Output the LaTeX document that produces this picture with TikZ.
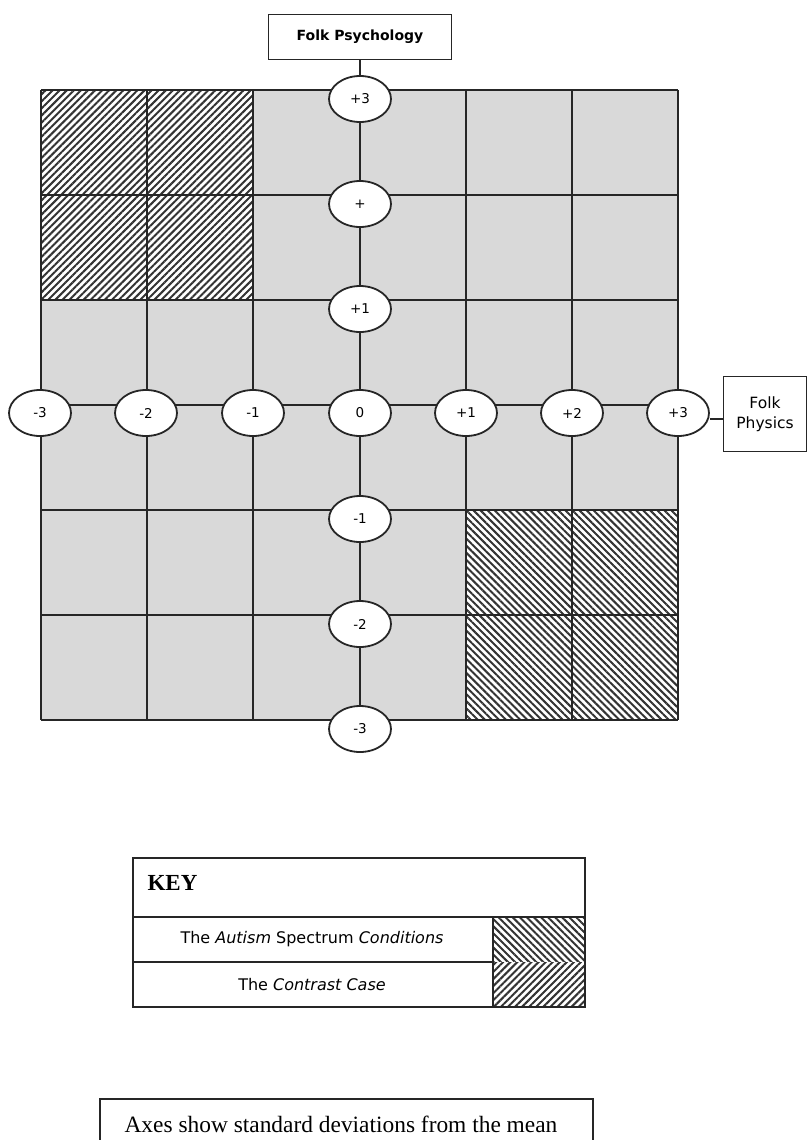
\documentclass[tikz,border=0pt]{standalone}
\usepackage{fontspec}
\setmainfont{Liberation Serif}
\newfontfamily\labfont{DejaVu Sans}
\usetikzlibrary{patterns.meta,shapes.geometric}
\tikzset{
  oval/.style={draw, line width=1.8pt, black!85, fill=white, text=black, ellipse, minimum width=62pt, minimum height=46pt, inner sep=0pt, font=\labfont\fontsize{13.5}{14}\selectfont},
  axisbox/.style={draw, line width=1.8pt, black!85, text=black, fill=white, align=center, font=\labfont\bfseries\fontsize{14}{16}\selectfont},
  gridline/.style={line width=2pt, black!85},
  hatchA/.style={pattern={Lines[angle=45,distance=5pt,line width=2pt]}, pattern color=black!80},
  hatchB/.style={pattern={Lines[angle=-45,distance=5pt,line width=2pt]}, pattern color=black!80},
  keybox/.style={draw, line width=1.8pt, black!85},
  keytext/.style={font=\labfont\fontsize{16}{18}\selectfont},
}
\begin{document}
\begin{tikzpicture}[x=1pt,y=-1pt]
\useasboundingbox (0,0) rectangle (809,1140);
\clip (0,0) rectangle (809,1140);
% grid background
\fill[black!15] (41,90) rectangle (678,720);
% hatched regions
\fill[white] (41,90) rectangle (253.3,300);
\fill[hatchA] (41,90) rectangle (253.3,300);
\fill[white] (465.7,510) rectangle (678,720);
\fill[hatchB] (465.7,510) rectangle (678,720);
% grid lines
\foreach \i in {0,...,6} {
  \draw[gridline] ({41+\i*106.17},90) -- ({41+\i*106.17},720);
  \draw[gridline] (41,{90+\i*105}) -- (678,{90+\i*105});
}
% axis boxes
\node[axisbox, minimum width=183pt, minimum height=45pt] (fpsy) at (360,37) {Folk Psychology};
\node[axisbox, minimum width=83pt, minimum height=75pt, inner sep=1pt, font=\labfont\fontsize{15.5}{20}\selectfont] (fphy) at (765,414) {Folk\\Physics};
% vertical axis ovals
\node[oval] (v3) at (360,99) {+3};
\node[oval] (v2) at (360,204) {+};
\node[oval] (v1) at (360,309) {+1};
\node[oval] (o) at (360,413) {0};
\node[oval] (vm1) at (360,519) {-1};
\node[oval] (vm2) at (360,624) {-2};
\node[oval] (vm3) at (360,729) {-3};
% horizontal axis ovals
\node[oval] (hm3) at (40,413) {-3};
\node[oval] (hm2) at (146,413) {-2};
\node[oval] (hm1) at (253,413) {-1};
\node[oval] (h1) at (466,413) {+1};
\node[oval] (h2) at (572,413) {+2};
\node[oval] (h3) at (678,413) {+3};
% connectors to axis boxes
\draw[gridline] (fpsy.south) -- (v3.north);
\coordinate (hc) at ([yshift=-6pt]h3.east);
\draw[gridline] (hc) -- (hc -| fphy.west);
% key
\fill[white] (493,917) rectangle (585,962);
\fill[hatchB] (493,917) rectangle (585,962);
\fill[white] (493,962) rectangle (585,1007);
\fill[hatchA] (493,962) rectangle (585,1007);
\draw[keybox] (133,917) -- (585,917);
\draw[keybox] (133,962) -- (493,962);
\draw[keybox] (493,917) -- (493,1007);
\draw[keybox] (133,858) rectangle (585,1007);
\node[font=\bfseries\fontsize{23}{25}\selectfont, anchor=west] (key) at (144,883) {KEY};
\node[keytext] (asc) at (312,939) {The \textit{Autism} Spectrum \textit{Conditions}};
\node[keytext] (cc) at (312,985) {The \textit{Contrast Case}};
% bottom note
\draw[keybox] (100,1099) rectangle (593,1160);
\node[font=\fontsize{23.4}{25}\selectfont] (note) at (341,1124) {Axes show standard deviations from the mean};
\end{tikzpicture}
\end{document}
